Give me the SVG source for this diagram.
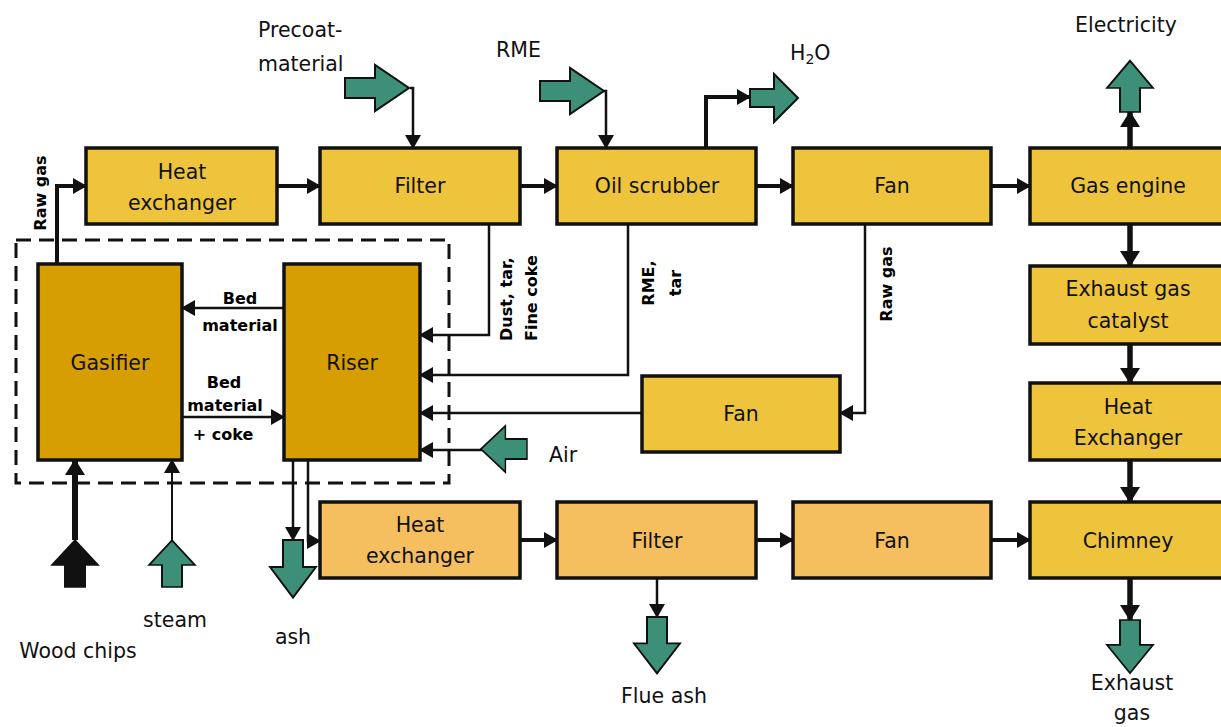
<svg xmlns="http://www.w3.org/2000/svg" width="1221" height="727" viewBox="0 0 1221 727">
<style>
.box{stroke:#111;stroke-width:3.5}
.y{fill:#EFC43D}
.d{fill:#D69E00}
.o{fill:#F5BE5E}
.t{font-family:"DejaVu Sans","Liberation Sans",sans-serif;font-size:20.5px;fill:#111;text-anchor:middle}
.l{font-family:"DejaVu Sans","Liberation Sans",sans-serif;font-size:20.5px;fill:#111}
.s{font-family:"DejaVu Sans","Liberation Sans",sans-serif;font-size:16px;font-weight:bold;fill:#000}
.c{fill:none;stroke:#111;stroke-linejoin:miter}
.w4{stroke-width:4}
.w5{stroke-width:5.5}
.w2{stroke-width:2.5}
.g{fill:#3E8F77;stroke:#111;stroke-width:2}
.k{fill:#111;stroke:#111;stroke-width:2}
</style>
<defs>
<marker id="ah" markerUnits="userSpaceOnUse" markerWidth="14" markerHeight="16" viewBox="0 0 14 16" refX="13" refY="8" orient="auto"><path d="M0,0 L14,8 L0,16 Z" fill="#111"/></marker>
<marker id="ahb" markerUnits="userSpaceOnUse" markerWidth="16" markerHeight="20" viewBox="0 0 16 20" refX="15" refY="10" orient="auto"><path d="M0,0 L16,10 L0,20 Z" fill="#111"/></marker>
<path id="barrow" d="M0,-10 H30 V-23 L64,0 L30,23 V10 H0 Z"/>
<path id="barrowS" d="M0,-9 H24 V-24 L48,0 L24,24 V9 H0 Z"/>
</defs>

<rect x="16" y="240" width="433" height="243" fill="none" stroke="#111" stroke-width="3" stroke-dasharray="15,8"/>

<g id="heat-exchanger-1"><rect class="box y" x="86" y="148" width="191" height="76"/><text class="t" x="182" y="179">Heat</text><text class="t" x="182" y="210">exchanger</text></g>
<g id="filter-1"><rect class="box y" x="320" y="148" width="200" height="76"/><text class="t" x="420" y="193">Filter</text></g>
<g id="oil-scrubber"><rect class="box y" x="557" y="148" width="199" height="76"/><text class="t" x="657" y="193">Oil scrubber</text></g>
<g id="fan-1"><rect class="box y" x="793" y="148" width="198" height="76"/><text class="t" x="892" y="193">Fan</text></g>
<g id="gas-engine"><rect class="box y" x="1030" y="148" width="200" height="76"/><text class="t" x="1128" y="193">Gas engine</text></g>
<g id="exhaust-gas-catalyst"><rect class="box y" x="1030" y="266" width="200" height="78"/><text class="t" x="1128" y="296">Exhaust gas</text><text class="t" x="1128" y="328">catalyst</text></g>
<g id="heat-exchanger-2"><rect class="box y" x="1030" y="383" width="200" height="77"/><text class="t" x="1128" y="414">Heat</text><text class="t" x="1128" y="445">Exchanger</text></g>
<g id="chimney"><rect class="box y" x="1030" y="502" width="200" height="76"/><text class="t" x="1128" y="548">Chimney</text></g>
<g id="gasifier"><rect class="box d" x="38" y="264" width="144" height="196"/><text class="t" x="110" y="370">Gasifier</text></g>
<g id="riser"><rect class="box d" x="284" y="264" width="136" height="196"/><text class="t" x="352" y="370">Riser</text></g>
<g id="fan-2"><rect class="box y" x="642" y="376" width="198" height="76"/><text class="t" x="741" y="421">Fan</text></g>
<g id="heat-exchanger-3"><rect class="box o" x="320" y="502" width="200" height="76"/><text class="t" x="420" y="532">Heat</text><text class="t" x="420" y="563">exchanger</text></g>
<g id="filter-2"><rect class="box o" x="557" y="502" width="199" height="76"/><text class="t" x="657" y="548">Filter</text></g>
<g id="fan-3"><rect class="box o" x="793" y="502" width="198" height="76"/><text class="t" x="892" y="548">Fan</text></g>

<g id="inputs-outputs">
<use href="#barrow" class="g" transform="translate(345,88)"/>
<use href="#barrow" class="g" transform="translate(540,91)"/>
<use href="#barrowS" class="g" transform="translate(750,98)"/>
<use href="#barrow" class="g" transform="translate(1130,112) rotate(-90) scale(0.8,1)"/>
<use href="#barrow" class="g" transform="translate(527,449) rotate(180) scale(0.72,1)"/>
<use href="#barrow" class="k" transform="translate(75,587) rotate(-90) scale(0.73,1)"/>
<use href="#barrow" class="g" transform="translate(172,587) rotate(-90) scale(0.73,1)"/>
<use href="#barrow" class="g" transform="translate(293,540) rotate(90) scale(0.9,1)"/>
<use href="#barrow" class="g" transform="translate(657,617) rotate(90) scale(0.88,1)"/>
<use href="#barrow" class="g" transform="translate(1130,620) rotate(90) scale(0.83,1)"/>
</g>

<g id="connectors">
<path class="c w4" d="M57,264 V186 H86" marker-end="url(#ah)"/>
<path class="c w4" d="M277,186 H320" marker-end="url(#ah)"/>
<path class="c w4" d="M520,186 H557" marker-end="url(#ah)"/>
<path class="c w4" d="M756,186 H793" marker-end="url(#ah)"/>
<path class="c w4" d="M991,186 H1030" marker-end="url(#ah)"/>
<path class="c w2" d="M410,88 H413 V148" marker-end="url(#ah)"/>
<path class="c w2" d="M604,91 H606 V148" marker-end="url(#ah)"/>
<path class="c w4" d="M706,148 V97 H750" marker-end="url(#ah)"/>
<path class="c w5" d="M1130,148 V112" marker-end="url(#ahb)"/>
<path class="c w5" d="M1130,224 V266" marker-end="url(#ahb)"/>
<path class="c w5" d="M1130,344 V383" marker-end="url(#ahb)"/>
<path class="c w5" d="M1130,460 V502" marker-end="url(#ahb)"/>
<path class="c w5" d="M1130,578 V620" marker-end="url(#ahb)"/>
<path class="c w2" d="M489,224 V335 H420" marker-end="url(#ah)"/>
<path class="c w2" d="M628,224 V375 H420" marker-end="url(#ah)"/>
<path class="c w2" d="M865,224 V413 H840" marker-end="url(#ah)"/>
<path class="c w2" d="M642,413 H420" marker-end="url(#ah)"/>
<path class="c w2" d="M482,450 H420" marker-end="url(#ah)"/>
<path class="c w2" d="M284,308 H182" marker-end="url(#ah)"/>
<path class="c w2" d="M182,417 H284" marker-end="url(#ah)"/>
<path class="c" stroke-width="6" d="M75,540 V460" marker-end="url(#ahb)"/>
<path class="c" stroke-width="2" d="M172,540 V460" marker-end="url(#ah)"/>
<path class="c w2" d="M293,460 V540" marker-end="url(#ah)"/>
<path class="c w2" d="M308,460 V541 H320" marker-end="url(#ah)"/>
<path class="c w4" d="M520,540 H557" marker-end="url(#ah)"/>
<path class="c w4" d="M756,540 H793" marker-end="url(#ah)"/>
<path class="c w4" d="M991,540 H1030" marker-end="url(#ah)"/>
<path class="c w2" d="M657,578 V617" marker-end="url(#ah)"/>
</g>

<g id="labels">
<text class="l" x="258" y="37">Precoat-</text>
<text class="l" x="258" y="71">material</text>
<text class="l" x="496" y="57">RME</text>
<text class="l" x="790" y="60">H<tspan font-size="14" dy="4">2</tspan><tspan dy="-4">O</tspan></text>
<text class="l" x="1075" y="32">Electricity</text>
<text class="l" x="549" y="462">Air</text>
<text class="t" x="175" y="627">steam</text>
<text class="t" x="78" y="658">Wood chips</text>
<text class="t" x="293" y="644">ash</text>
<text class="t" x="664" y="703">Flue ash</text>
<text class="t" x="1132" y="690">Exhaust</text>
<text class="t" x="1132" y="720">gas</text>
<text class="s" transform="translate(46,193) rotate(-90)" text-anchor="middle">Raw gas</text>
<text class="s" transform="translate(512,341) rotate(-90)">Dust, tar,</text>
<text class="s" transform="translate(537,341) rotate(-90)">Fine coke</text>
<text class="s" transform="translate(654,283) rotate(-90)" text-anchor="middle">RME,</text>
<text class="s" transform="translate(681,283) rotate(-90)" text-anchor="middle">tar</text>
<text class="s" transform="translate(892,284) rotate(-90)" text-anchor="middle">Raw gas</text>
<text class="s" x="240" y="304" text-anchor="middle">Bed</text>
<text class="s" x="240" y="331" text-anchor="middle">material</text>
<text class="s" x="224" y="388" text-anchor="middle">Bed</text>
<text class="s" x="225" y="411" text-anchor="middle">material</text>
<text class="s" x="223" y="440" text-anchor="middle">+ coke</text>
</g>
</svg>
